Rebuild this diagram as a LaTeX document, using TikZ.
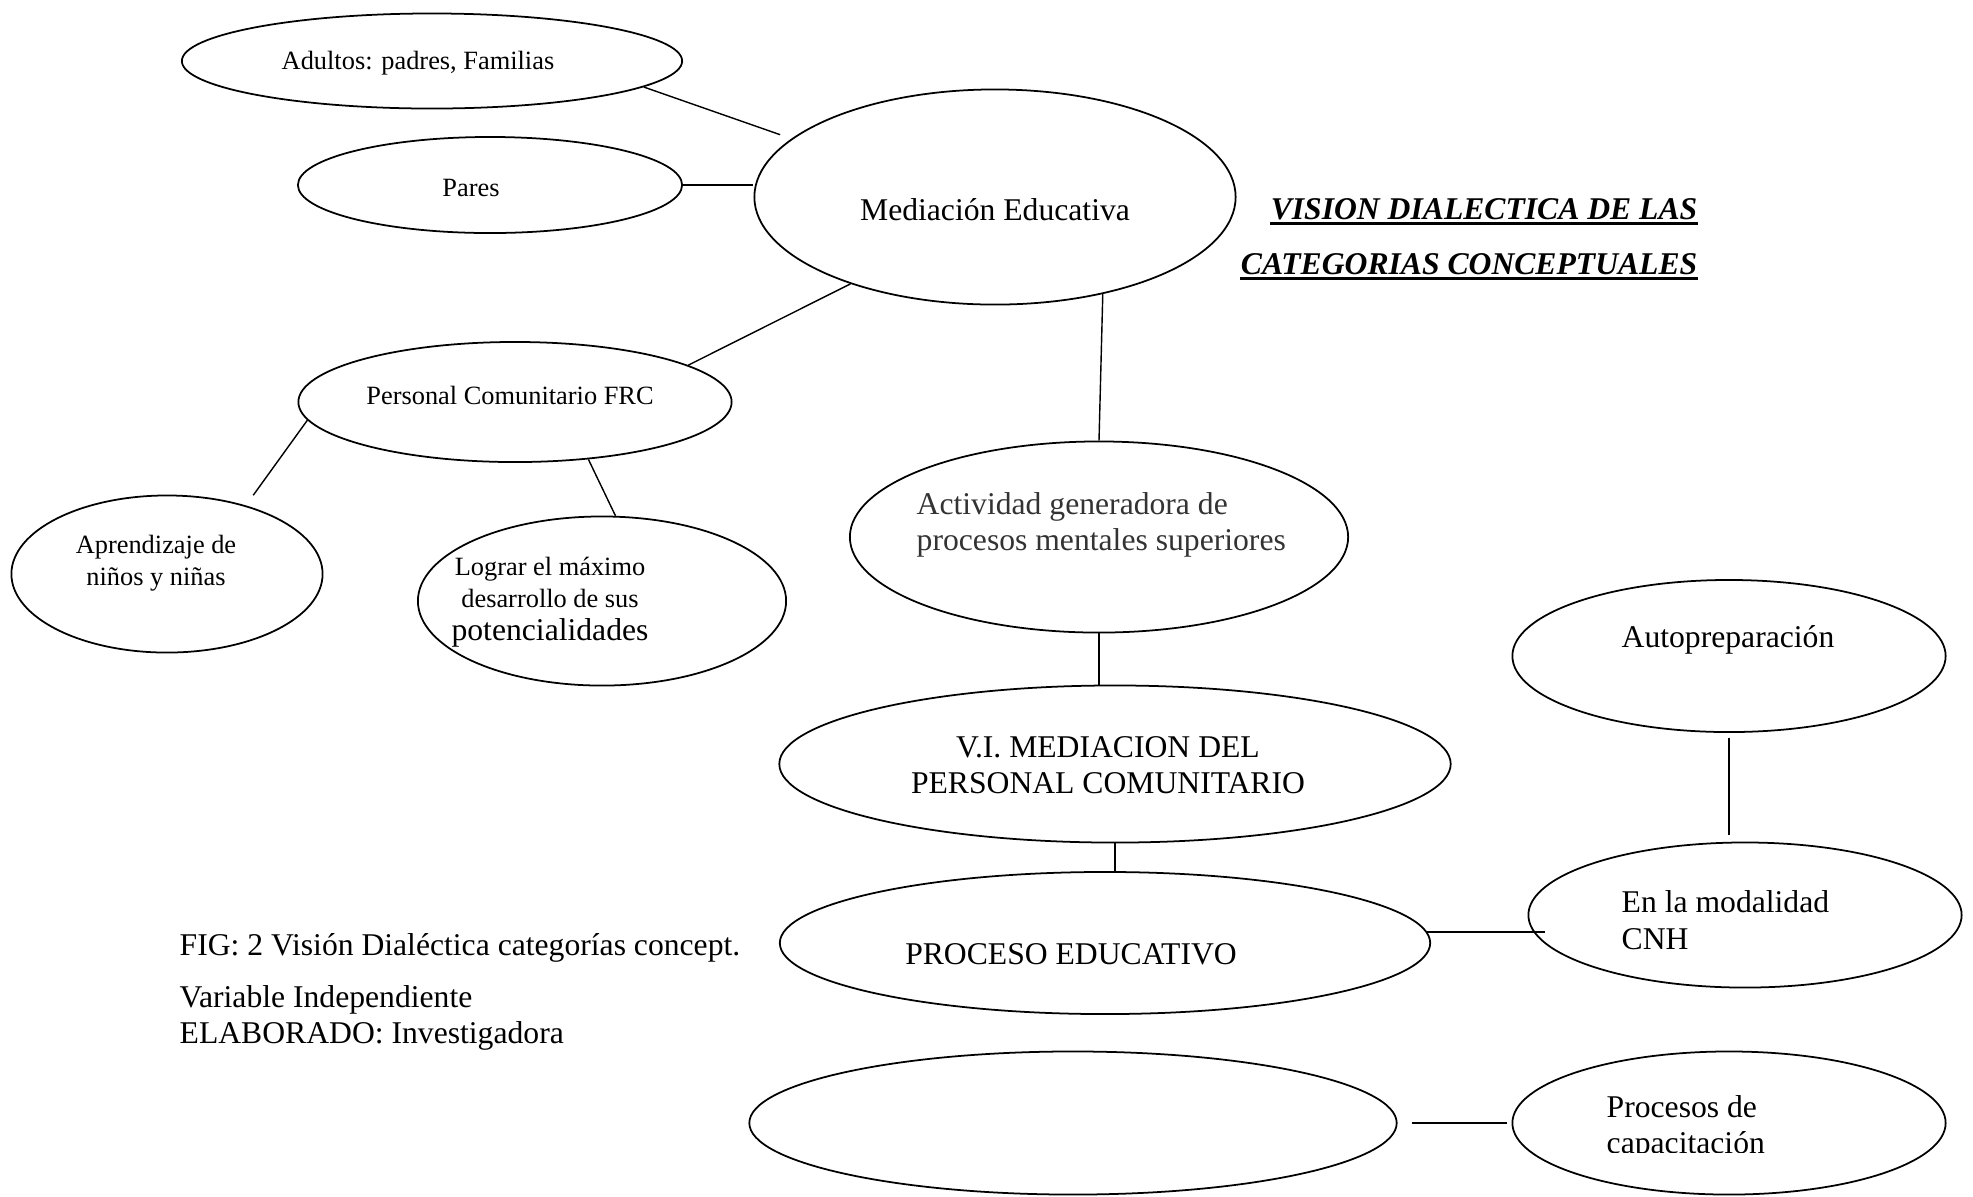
\documentclass[tikz,border=0pt]{standalone}
\usepackage{fontspec}
\setmainfont{Liberation Serif}
\usetikzlibrary{shapes.geometric}

\begin{document}
\begin{tikzpicture}[x=0.01cm,y=-0.01cm,
  bubble/.style={draw, ellipse, line width=0.5pt, inner sep=0pt},
  link/.style={line width=0.4pt},
  heavy/.style={line width=0.6pt},
  lbl/.style={inner sep=0pt, font=\fontsize{7.5}{9.2}\selectfont},
  txt/.style={inner sep=0pt, font=\fontsize{9}{10.4}\selectfont},
  ttl/.style={inner sep=0pt, anchor=east, font=\fontsize{9}{10.4}\selectfont\bfseries\itshape}]
  \useasboundingbox (0,0) rectangle (1973,1196);

  \node[bubble, minimum width=5cm, minimum height=0.95cm] (adultos) at (432,61) {};
  \node[bubble, minimum width=3.84cm, minimum height=0.96cm] (pares) at (490,185) {};
  \node[bubble, minimum width=4.81cm, minimum height=2.15cm] (med) at (995,197) {};
  \node[bubble, minimum width=4.33cm, minimum height=1.2cm] (personal) at (515,402) {};
  \node[bubble, minimum width=3.11cm, minimum height=1.57cm] (aprend) at (167,574) {};
  \node[bubble, minimum width=3.68cm, minimum height=1.69cm] (lograr) at (602,601) {};
  \node[bubble, minimum width=4.98cm, minimum height=1.91cm] (activ) at (1099,537) {};
  \node[bubble, minimum width=6.71cm, minimum height=1.57cm] (vi) at (1115,764) {};
  \node[bubble, minimum width=6.5cm, minimum height=1.42cm] (proc) at (1105,943) {};
  \node[bubble, minimum width=6.47cm, minimum height=1.43cm] (blank) at (1073,1123) {};
  \node[bubble, minimum width=4.33cm, minimum height=1.52cm] (autoprep) at (1729,656) {};
  \node[bubble, minimum width=4.33cm, minimum height=1.45cm] (cnh) at (1745,915) {};
  \node[bubble, minimum width=4.33cm, minimum height=1.43cm] (procap) at (1729,1123) {};

  \draw[link, shorten >=0.12cm] (adultos.-7.5) -- (med.164.5);
  \draw[heavy] (pares.east) -- (pares.east -| med.west);
  \draw[link] (med.-149.4) -- (personal.12.3);
  \draw[link, shorten >=0.125cm] (personal.185.4) -- (aprend.41.7);
  \draw[link] (personal.-38.7) -- (lograr.81.9);
  \draw[link] (med.-42.2) -- (activ.north);
  \draw[link] (activ.south) -- (activ.south |- vi.north);
  \draw[link] (vi.south) -- (vi.south |- proc.north);
  \draw[heavy, shorten >=-0.17cm] (proc.2.1) -- (proc.2.1 -| cnh.west);
  \draw[link, shorten <=0.05cm, shorten >=0.07cm] (autoprep.south) -- (autoprep.south |- cnh.north);
  \draw[heavy, shorten <=0.14cm, shorten >=0.05cm] (blank.east) -- (procap.west);

  \node[lbl] (tadultos) at (418,63) {Adultos: padres, Familias};
  \node[lbl] (tpares) at (471,188) {Pares};
  \node[txt] (tmed) at (995,210) {Mediación Educativa};
  \node[lbl] (tpersonal) at (510,395) {Personal Comunitario FRC};
  \node[lbl, align=center] (taprend) at (156,563) {Aprendizaje de\\niños y niñas};
  \node[lbl, align=center] (tlograr) at (550,602) {Lograr el máximo\\desarrollo de sus\\\fontsize{9}{10.4}\selectfont potencialidades};
  \node[txt, text=black!80, align=left, anchor=west] (tactiv) at (916,525) {Actividad generadora de\\procesos mentales superiores};
  \node[txt, align=center] (tvi) at (1108,765) {V.I. MEDIACION DEL\\PERSONAL COMUNITARIO};
  \node[txt] (tproc) at (1071,954) {PROCESO EDUCATIVO};
  \node[txt] (tauto) at (1728,640) {Autopreparación};
  \node[txt, align=left, anchor=west] (tcnh) at (1621,920) {En la modalidad\\CNH};
  \begin{scope}
    \clip (1500,1000) rectangle (1900,1152);
    \node[txt, align=left, anchor=west] (tprocap) at (1606,1128) {Procesos de\\capacitación};
  \end{scope}

  \node[ttl] (ttla) at (1698,209) {VISION DIALECTICA DE LAS};
  \node[ttl] (ttlb) at (1698,264) {CATEGORIAS CONCEPTUALES};
  \draw[line width=0.9pt] ([yshift=-0.8pt]ttla.south west) -- ([yshift=-0.8pt]ttla.south east);
  \draw[line width=0.9pt] ([yshift=-0.8pt]ttlb.south west) -- ([yshift=-0.8pt]ttlb.south east);

  \node[txt, anchor=west] (tfig) at (179,948) {FIG: 2 Visión Dialéctica categorías concept.};
  \node[txt, align=left, anchor=west] (tvar) at (179,1018) {Variable Independiente\\ELABORADO: Investigadora};
\end{tikzpicture}
\end{document}
